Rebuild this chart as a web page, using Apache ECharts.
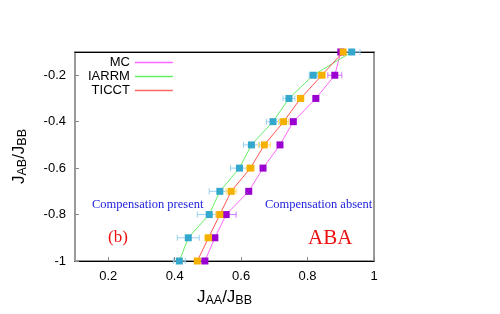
<!DOCTYPE html>
<html><head><meta charset="utf-8">
<script src="https://cdn.jsdelivr.net/npm/echarts@6/dist/echarts.min.js"></script>
<style>html,body{margin:0;padding:0;background:#fff}#c{width:500px;height:314px}</style>
</head><body><div id="c"></div>
<script>
// y levels (J_AB/J_BB)
var yLevels = [-0.1, -0.2, -0.3, -0.4, -0.5, -0.6, -0.7, -0.8, -0.9, -1.0];
// x values (J_AA/J_BB) per series
var mcX    = [0.900, 0.882, 0.825, 0.757, 0.717, 0.666, 0.623, 0.555, 0.521, 0.491];
var mcErr  = [0.000, 0.021, 0.008, 0.008, 0.006, 0.006, 0.006, 0.030, 0.008, 0.008];
var iarX   = [0.933, 0.817, 0.744, 0.696, 0.631, 0.595, 0.536, 0.504, 0.441, 0.414];
var iarErr = [0.025, 0.012, 0.018, 0.020, 0.024, 0.027, 0.032, 0.036, 0.033, 0.018];
var tiX    = [0.907, 0.843, 0.779, 0.728, 0.670, 0.628, 0.570, 0.536, 0.502, 0.468];
var tiErr  = [0.006, 0.010, 0.010, 0.015, 0.018, 0.012, 0.015, 0.012, 0.012, 0.008];
var xTicks = [0.2, 0.4, 0.6, 0.8, 1];
var yTicks = [-1, -0.8, -0.6, -0.4, -0.2];

function pts(xs){ return xs.map(function(x,i){ return [x, yLevels[i]]; }); }
function errPts(xs, es){ return xs.map(function(x,i){ return [x, yLevels[i], es[i]]; }); }
function errSeries(xs, es, color){
  return {
    type:'custom', silent:true, z:1,
    data: errPts(xs, es),
    renderItem: function(params, api){
      var x = api.value(0), y = api.value(1), e = api.value(2);
      if (!e) return null;
      var a = api.coord([x-e, y]), b = api.coord([x+e, y]);
      var h = 3;
      return {type:'group', children:[
        {type:'line', shape:{x1:a[0],y1:a[1],x2:b[0],y2:b[1]}, style:{stroke:color, lineWidth:1}},
        {type:'line', shape:{x1:a[0],y1:a[1]-h,x2:a[0],y2:a[1]+h}, style:{stroke:color, lineWidth:1}},
        {type:'line', shape:{x1:b[0],y1:b[1]-h,x2:b[0],y2:b[1]+h}, style:{stroke:color, lineWidth:1}}
      ]};
    }
  };
}
function lineSeries(name, xs, lineColor, symColor){
  return {
    name:name, type:'line', z:3, data: pts(xs),
    symbol:'rect', symbolSize:7, showSymbol:true,
    lineStyle:{color:lineColor, width:1},
    itemStyle:{color:symColor},
    emphasis:{disabled:true}, animation:false
  };
}
var font = 'Liberation Sans, Arial, sans-serif';
var serif = 'Liberation Serif, Times New Roman, serif';
var chart = echarts.init(document.getElementById('c'), null, {renderer:'canvas'});
chart.setOption({
  animation:false,
  grid:{left:75, right:126, top:52, bottom:53, show:true, borderColor:'#999', borderWidth:2, backgroundColor:'transparent'},
  xAxis:[{
    type:'value', min:0.1, max:1, position:'bottom',
    axisLine:{show:true, onZero:false, lineStyle:{color:'#000', width:1}},
    axisTick:{show:true, inside:true, length:4, customValues:xTicks, lineStyle:{color:'#888'}},
    axisLabel:{customValues:xTicks, color:'#000', fontFamily:font, fontSize:13, margin:9,
      formatter:function(v){ return String(+v.toFixed(1)); }},
    splitLine:{show:false},
    name:'{j|J}{s|AA}{j|/J}{s|BB}', nameLocation:'middle', nameGap:27,
    nameTextStyle:{rich:{
      j:{fontFamily:font, fontSize:17, color:'#000'},
      s:{fontFamily:font, fontSize:12.5, color:'#000', padding:[6,0,0,0]}
    }}
  },{
    type:'value', min:0.1, max:1, position:'top',
    axisLine:{show:true, onZero:false, lineStyle:{color:'#000', width:1}},
    axisTick:{show:false}, axisLabel:{show:false}, splitLine:{show:false}
  }],
  yAxis:[{
    type:'value', min:-1, max:-0.1,
    axisLine:{show:false},
    axisTick:{show:true, inside:true, length:4, customValues:yTicks, lineStyle:{color:'#888'}},
    axisLabel:{customValues:yTicks, color:'#000', fontFamily:font, fontSize:13, margin:9,
      formatter:function(v){ return String(+v.toFixed(1)); }},
    splitLine:{show:false},
    name:'{j|J}{s|AB}{j|/J}{s|BB}', nameLocation:'middle', nameGap:46, nameRotate:90,
    nameTextStyle:{rich:{
      j:{fontFamily:font, fontSize:17, color:'#000'},
      s:{fontFamily:font, fontSize:12.5, color:'#000', padding:[6,0,0,0]}
    }}
  }],
  legend:{
    orient:'vertical', align:'right', left:83, top:51, itemGap:1,
    itemWidth:38, itemHeight:1.5, selectedMode:false,
    textStyle:{fontFamily:font, fontSize:13, color:'#000', lineHeight:13},
    data:[
      {name:'MC', icon:'rect', itemStyle:{color:'#ff66ff'}},
      {name:'IARRM', icon:'rect', itemStyle:{color:'#66ee66'}},
      {name:'TICCT', icon:'rect', itemStyle:{color:'#ff6666'}}
    ]
  },
  graphic:[
    {type:'text', left:92, top:198, style:{text:'Compensation present', fill:'#2222dd', font:'12.5px '+serif}},
    {type:'text', left:265, top:198, style:{text:'Compensation absent', fill:'#2222dd', font:'12.5px '+serif}},
    {type:'text', left:108, top:229, style:{text:'(b)', fill:'#ee1111', font:'17px '+serif}},
    {type:'text', left:308, top:228, style:{text:'ABA', fill:'#ee1111', font:'21px '+serif}}
  ],
  series:[
    errSeries(mcX, mcErr, '#cc77ff'),
    errSeries(iarX, iarErr, '#99d0f0'),
    errSeries(tiX, tiErr, '#ffdd66'),
    lineSeries('MC', mcX, '#ff66ff', '#9a00d0'),
    lineSeries('IARRM', iarX, '#66ee66', '#33a8cc'),
    lineSeries('TICCT', tiX, '#ff5555', '#f5b000')
  ]
});
</script></body></html>
